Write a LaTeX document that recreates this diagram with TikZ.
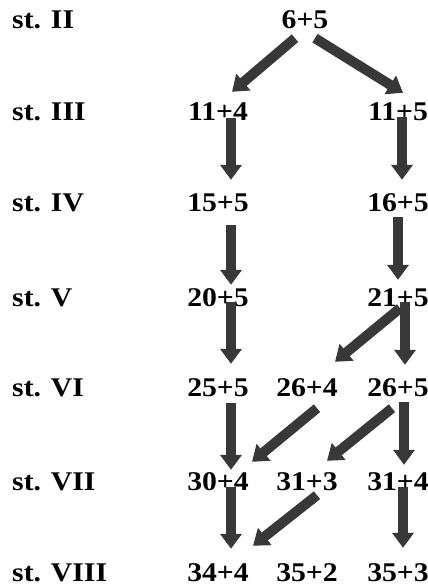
\documentclass[tikz,border=0pt]{standalone}
\usepackage{fontspec}
\setmainfont{Liberation Serif}[FakeStretch=1.1]
\usetikzlibrary{arrows.meta}
\definecolor{arrowgray}{RGB}{56,56,56}
\tikzset{
  >={Triangle[width=21pt,length=15pt]},
  every node/.style={inner sep=0pt, text height=18pt, text depth=0pt,
    font=\fontsize{27}{30}\selectfont\bfseries},
  stage/.style={anchor=west},
  fat/.style={->, draw=arrowgray, fill=arrowgray, line width=10pt},
}

\begin{document}
\begin{tikzpicture}[x=1pt, y=-1pt]
    \useasboundingbox (0,0) rectangle (428,586);
    % stages
    \node[stage] (L2) at (12,20)  {st. II};
    \node[stage] (L3) at (12,111) {st. III};
    \node[stage] (L4) at (12,202) {st. IV};
    \node[stage] (L5) at (12,297) {st. V};
    \node[stage] (L6) at (12,387) {st. VI};
    \node[stage] (L7) at (12,481) {st. VII};
    \node[stage] (L8) at (12,572) {st. VIII};
    % values
    \node (T2) at (305,20)  {6+5};
    \node (A3) at (218,111) {11+4};
    \node (C3) at (398,111) {11+5};
    \node (A4) at (218,202) {15+5};
    \node (C4) at (398,202) {16+5};
    \node (A5) at (218,297) {20+5};
    \node (C5) at (398,297) {21+5};
    \node (A6) at (218,387) {25+5};
    \node (B6) at (307,387) {26+4};
    \node (C6) at (398,387) {26+5};
    \node (A7) at (218,481) {30+4};
    \node (B7) at (307,481) {31+3};
    \node (C7) at (398,481) {31+4};
    \node (A8) at (218,572) {34+4};
    \node (B8) at (307,572) {35+2};
    \node (C8) at (398,572) {35+3};
    % moves
    \draw[fat] ([xshift=-10pt,yshift=-9pt]T2.south) -- ([xshift=14pt,yshift=10pt]A3.north);
    \draw[fat] ([xshift=10pt,yshift=-9pt]T2.south)  -- ([xshift=5pt,yshift=9pt]C3.north);
    \draw[fat] ([xshift=13pt,yshift=2pt]A3.south)   -- ([xshift=13pt,yshift=13pt]A4.north);
    \draw[fat] ([xshift=4pt,yshift=3pt]C3.south)    -- ([xshift=4pt,yshift=13pt]C4.north);
    \draw[fat] ([xshift=13pt,yshift=-14pt]A4.south) -- ([xshift=13pt,yshift=3pt]A5.north);
    \draw[fat] ([xshift=0pt,yshift=-6pt]C4.south)   -- ([xshift=0pt,yshift=8pt]C5.north);
    \draw[fat] ([xshift=13pt,yshift=4pt]A5.south)   -- ([xshift=13pt,yshift=14pt]A6.north);
    \draw[fat] ([xshift=7pt,yshift=4pt]C5.south)    -- ([xshift=7pt,yshift=13pt]C6.north);
    \draw[fat] ([xshift=2pt,yshift=-2pt]C5.south)   -- ([xshift=28pt,yshift=16pt]B6.north);
    \draw[fat] ([xshift=13pt,yshift=-7pt]A6.south)  -- ([xshift=13pt,yshift=2pt]A7.north);
    \draw[fat] ([xshift=10pt,yshift=-12pt]B6.south) -- ([xshift=34pt,yshift=10pt]A7.north);
    \draw[fat] ([xshift=-6pt,yshift=-12pt]C6.south) -- ([xshift=20pt,yshift=11pt]B7.north);
    \draw[fat] ([xshift=6pt,yshift=-6pt]C6.south)   -- ([xshift=6pt,yshift=7pt]C7.north);
    \draw[fat] ([xshift=13pt,yshift=3pt]A7.south)   -- ([xshift=13pt,yshift=14pt]A8.north);
    \draw[fat] ([xshift=10pt,yshift=-5pt]B7.south)  -- ([xshift=35pt,yshift=17pt]A8.north);
    \draw[fat] ([xshift=5pt,yshift=3pt]C7.south)    -- ([xshift=5pt,yshift=15pt]C8.north);
\end{tikzpicture}
\end{document}
